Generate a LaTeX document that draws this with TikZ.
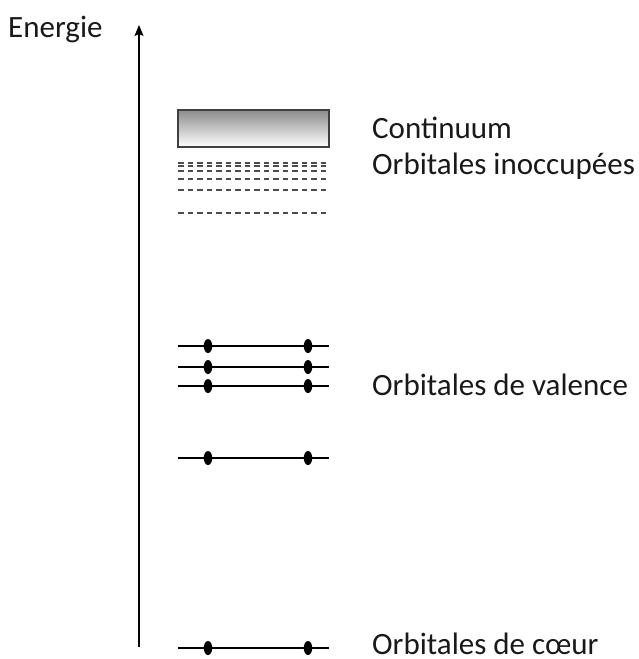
\documentclass[tikz,border=0pt]{standalone}
\usepackage{fontspec}
\setmainfont{Carlito}
\usetikzlibrary{arrows.meta,shapes.geometric}

\begin{document}
\begin{tikzpicture}[x=1pt,y=-1pt,
  niveau/.style={line width=1.4pt},
  vide/.style={line width=1.8pt,dash pattern=on 5.5pt off 4pt,black!70},
  electron/.style={ellipse,fill=black,inner sep=0pt,minimum width=8.5pt,minimum height=14pt},
  continuum/.style={draw=black!75,line width=1.6pt,top color=black!45,bottom color=white,minimum width=151pt,minimum height=37pt,inner sep=0pt},
  etiq/.style={anchor=base west,font=\fontsize{31}{37}\selectfont,inner sep=0pt,text=black!90},
  fleche/.style={-{Stealth[length=11pt,width=9pt,inset=2pt]},line width=1.3pt}
]
\useasboundingbox (0,0) rectangle (639,659);

% axe des energies
\coordinate (bas) at (139,647);
\coordinate (haut) at (139,25);
\draw[fleche] (bas) -- (haut);
\node[etiq] (energie) at (8,37.5) {Energie};

% continuum et orbitales vides
\node[continuum] (cont) at (253.5,128.5) {};
\foreach \y in {162.7,166,170.7,178.7,190,213.3}
  \draw[vide] (178,\y) -- (329,\y);

% orbitales occupees
\foreach \n/\y in {va/346,vb/367,vc/386,vd/458,co/648}{
  \coordinate (\n g) at (178,\y);
  \coordinate (\n d) at (329,\y);
  \draw[niveau] (\n g) -- (\n d);
  \node[electron] (\n 1) at (208,\y) {};
  \node[electron] (\n 2) at (308,\y) {};
}

\node[etiq] (lcont) at (372,138.3) {Continuum};
\node[etiq] (lvide) at (372,174) {Orbitales inoccupées};
\node[etiq] (lval) at (372,395) {Orbitales de valence};
\node[etiq] (lcoeur) at (372,654) {Orbitales de cœur};
\end{tikzpicture}
\end{document}
